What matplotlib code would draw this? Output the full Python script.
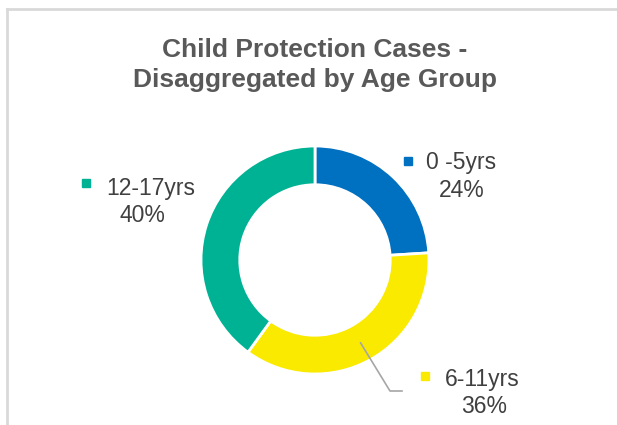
import numpy as np
import matplotlib.pyplot as plt

plt.rcParams['font.family'] = ['Liberation Sans', 'DejaVu Sans']

title = 'Child Protection Cases -\nDisaggregated by Age Group'
age_groups = ['0 -5yrs', '6-11yrs', '12-17yrs']
shares = [24, 36, 40]
colors = ['#0070C0', '#F9EA00', '#00B294']

W, H = 617, 425
fig = plt.figure(figsize=(W / 100, H / 100), dpi=100)


def px(x, y):
    # pixel position (from top-left) -> figure fraction
    return x / W, 1 - y / H


# donut centred at (315, 260) px, outer radius 114 px
cx, cy, r = 315, 260, 114
ax = fig.add_axes([(cx - r) / W, (H - cy - r) / H, 2 * r / W, 2 * r / H])
wedges, _ = ax.pie(shares, colors=colors, startangle=90, counterclock=False,
                   radius=1, wedgeprops=dict(width=0.34, edgecolor='white', linewidth=2))
ax.set_xlim(-1, 1)
ax.set_ylim(-1, 1)
ax.axis('off')

# chart frame (top and left edges only)
fig.add_artist(plt.Line2D([7 / W, 1], [1 - 9 / H, 1 - 9 / H], color='#d9d9d9', lw=2))
fig.add_artist(plt.Line2D([7 / W, 7 / W], [0, 1 - 9 / H], color='#d9d9d9', lw=2))

# title
for i, line in enumerate(title.split('\n')):
    fig.text(*px(315, 57 + 30 * i), line, ha='center', va='baseline',
             fontsize=19, fontweight='bold', color='#595959')

# data labels: key square + name, percentage below
label_pos = {
    '0 -5yrs': ((407.5, 160.5), (426, 169), (462, 197)),
    '6-11yrs': ((424.5, 375.5), (445, 386), (484, 413)),
    '12-17yrs': ((86, 183), (106, 195), (142, 222)),
}
for name, val, col in zip(age_groups, shares, colors):
    sq, txt, pct = label_pos[name]
    fig.add_artist(plt.Line2D([px(*sq)[0]], [px(*sq)[1]], marker='s', markersize=5.5,
                              color=col, lw=0))
    fig.text(*px(*txt), name, ha='left', va='baseline', fontsize=16.5, color='#404040')
    fig.text(*px(*pct), f'{val}%', ha='center', va='baseline', fontsize=16.5, color='#404040')

# leader line for the 6-11yrs slice, starting at the middle of the ring
w = wedges[1]
mid = np.deg2rad((w.theta1 + w.theta2) / 2)
rm = 1 - 0.34 / 2
ax.plot([rm * np.cos(mid), (390 - cx) / r, (402 - cx) / r],
        [rm * np.sin(mid), -(391 - cy) / r, -(391 - cy) / r],
        color='#a6a6a6', lw=1.2, clip_on=False)

fig.savefig('out.png', dpi=100)
